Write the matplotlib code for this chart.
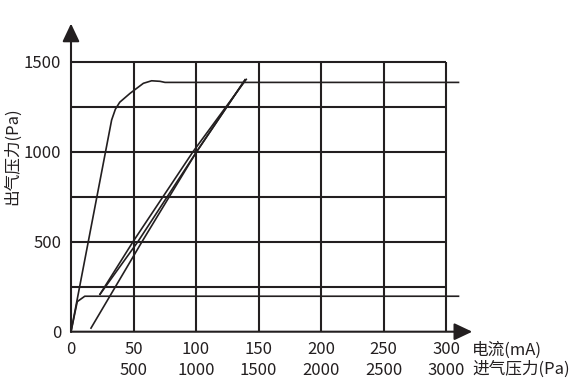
import matplotlib.pyplot as plt

plt.rcParams['font.family'] = ['Noto Sans CJK SC', 'DejaVu Sans']

INK = '#231f20'

# 电流 (mA) / 出气压力 (Pa)
steep_ma = [0, 32.5, 35.5, 39, 47.2, 57.9, 64.5, 71.2, 75.2, 310]
steep_pa = [0, 1176, 1236, 1275, 1324, 1380, 1394, 1391, 1385, 1385]

low_ma = [0, 5, 11, 310]
low_pa = [0, 167, 197, 197]

upA_ma = [23.2, 49.6, 97.6, 140.2]
upA_pa = [208, 500, 1000, 1402]

upB_ma = [23.2, 53.5, 100.5, 139.2]
upB_pa = [208, 500, 1000, 1399]

down_ma = [16, 56.8, 100.5, 139.2]
down_pa = [20, 500, 1000, 1399]

x_ticks = [0, 50, 100, 150, 200, 250, 300]
y_ticks = [0, 500, 1000, 1500]
grid_x = [50, 100, 150, 200, 250, 300]
grid_y = [250, 500, 750, 1000, 1250, 1500]
in_ticks = [500, 1000, 1500, 2000, 2500, 3000]

W, H = 580, 390
fig = plt.figure(figsize=(W / 100, H / 100), dpi=100)
ax = fig.add_axes([71 / W, (H - 331.7) / H, 400 / W, 306 / H])
ax.set_xlim(0, 320)
ax.set_ylim(0, 1700)
for s in ax.spines.values():
    s.set_visible(False)

# grid
ax.vlines(grid_x, 0, 1500, color=INK, lw=1.5)
ax.hlines(grid_y, 0, 300, color=INK, lw=1.5)

# axes with arrows
arr = dict(arrowstyle='-|>,head_length=0.55,head_width=0.26', color=INK,
           lw=1.5, mutation_scale=20, shrinkA=0, shrinkB=0)
ax.annotate('', xy=(0, 1712), xytext=(0, 0), arrowprops=arr, annotation_clip=False)
ax.annotate('', xy=(321, 0), xytext=(0, 0), arrowprops=arr, annotation_clip=False)

# curves
for xs, ys in [(steep_ma, steep_pa), (low_ma, low_pa), (upA_ma, upA_pa),
               (upB_ma, upB_pa), (down_ma, down_pa)]:
    ax.plot(xs, ys, color=INK, lw=1.2, clip_on=False, solid_joinstyle='round')

fs = 12
fw = 500
ax.set_xticks(x_ticks, [str(t) for t in x_ticks])
ax.set_yticks(y_ticks, [str(t) for t in y_ticks])
ax.tick_params(length=0, labelsize=fs, colors=INK)
ax.tick_params(axis='x', pad=6.5)
ax.tick_params(axis='y', pad=7)
for lab in ax.get_xticklabels() + ax.get_yticklabels():
    lab.set_fontweight(fw)

sec = ax.secondary_xaxis(0, functions=(lambda x: x * 10, lambda x: x / 10))
sec.set_xticks(in_ticks, [str(t) for t in in_ticks])
sec.tick_params(length=0, labelsize=fs, colors=INK, pad=21.5)
sec.spines['bottom'].set_visible(False)
for lab in sec.get_xticklabels():
    lab.set_fontweight(fw)

ax.text(321, -105, '电流(mA)', fontsize=fs, fontweight=fw, color=INK,
        ha='left', va='center')
ax.text(321, -210, '进气压力(Pa)', fontsize=fs, fontweight=fw, color=INK,
        ha='left', va='center')
ax.text(-47, 975, '出气压力(Pa)', fontsize=fs, fontweight=fw, color=INK,
        rotation=90, ha='center', va='center')

fig.savefig('out.png', dpi=100)
